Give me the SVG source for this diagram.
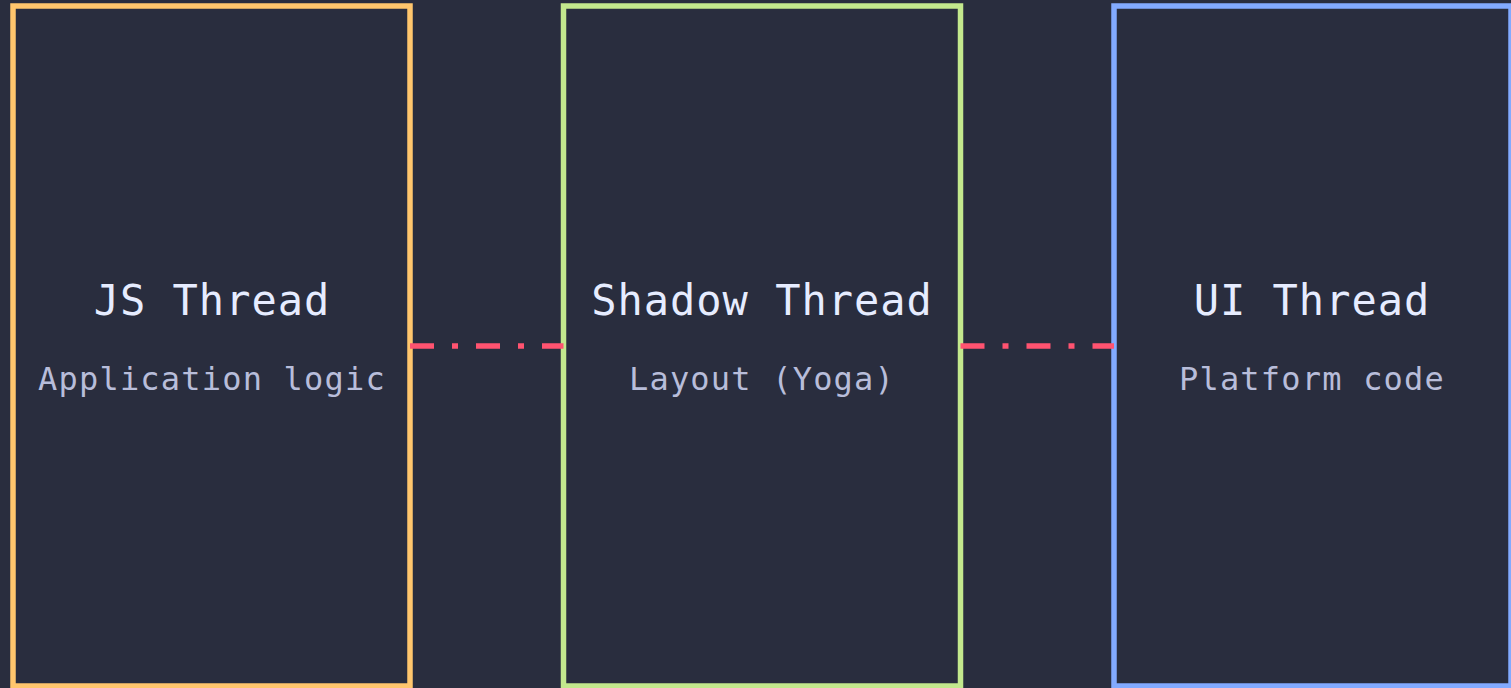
<svg xmlns="http://www.w3.org/2000/svg" width="1511" height="688" viewBox="0 0 1511 688">
<style>
.box{fill:#292d3e;stroke-width:5.5}
.title{font-family:"DejaVu Sans Mono","Liberation Mono",monospace;font-size:42px;letter-spacing:1px;fill:#e6ecff;text-anchor:middle}
.sub{font-family:"DejaVu Sans Mono","Liberation Mono",monospace;font-size:32px;letter-spacing:1.2px;fill:#b8bdda;text-anchor:middle}
.conn{stroke:#ff5370;stroke-width:5.5;stroke-dasharray:24 18 6 18;fill:none}
</style>
<rect width="1511" height="688" fill="#292d3e"/>
<g id="js-thread">
<rect class="box" x="13" y="6" width="397" height="680" stroke="#ffc66d"/>
<text class="title" x="212" y="315">JS Thread</text>
<text class="sub" x="212" y="390">Application logic</text>
</g>
<g id="shadow-thread">
<rect class="box" x="563.5" y="6" width="397" height="680" stroke="#c3e88d"/>
<text class="title" x="762" y="315">Shadow Thread</text>
<text class="sub" x="762" y="390">Layout (Yoga)</text>
</g>
<g id="ui-thread">
<rect class="box" x="1114" y="6" width="397" height="680" stroke="#82aaff"/>
<text class="title" x="1312" y="315">UI Thread</text>
<text class="sub" x="1312" y="390">Platform code</text>
</g>
<g id="connectors">
<line class="conn" x1="410" y1="346" x2="563.5" y2="346"/>
<line class="conn" x1="960.5" y1="346" x2="1114" y2="346"/>
</g>
</svg>
